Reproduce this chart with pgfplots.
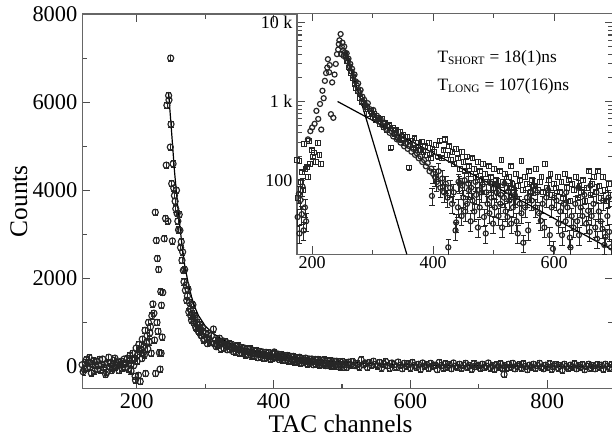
\documentclass[border=0pt]{standalone}
\usepackage{fontspec}
\setmainfont{Liberation Serif}
\usepackage{pgfplots}
\usepackage{pgfplotstable}
\pgfplotsset{compat=1.18}

% main spectrum (linear)
\pgfplotstableread{
x y
120 40
121.5 -120
123 -60
124.5 90
126 150
127.5 -30
129 90
130.5 200
132 -20
133.5 -150
135 60
136.5 130
138 -100
139.5 20
141 110
142.5 -60
144 20
145.5 160
147 -80
148.5 40
150 170
151.5 -20
153 50
154.5 -180
156 -130
157.5 90
159 210
160.5 0
162 80
163.5 -90
165 -40
166.5 140
168 190
169.5 -10
171 30
172.5 100
174 -90
175.5 50
177 120
178.5 -40
180 60
181.5 170
183 -20
184.5 80
186 180
187.5 -60
189 140
190 250
191.5 -100
192 60
193.5 150
194 300
195.5 20
196 180
197.5 -220
198 -310
199 420
200.5 120
201 260
202.5 -200
203 500
204 340
205 -340
206 380
207.5 180
208 620
209 300
210 450
211 260
212 820
213 -160
214 540
215 700
216 400
217 1000
218 560
219 760
220 900
221 300
222 1150
223.5 1420
225 1210
226 600
227 3500
227.5 -160
228.5 2860
229.5 1000
230 2450
231 800
232 2200
233 310
234 -60
235 1700
235.5 300
236 1390
237 670
238 1680
240 2900
242 3360
243 4570
244 5930
245.5 3300
246.5 6150
247 6050
249.5 7000
249 4980
250 5500
251 4150
252 2850
253 4600
254 4050
255 3880
256 3750
257 3580
258 4000
259 3470
260 3300
261 3100
262 3450
263 3090
264 2700
265 2830
266 2410
267 2600
268 2180
269 1920
270 2200
271 1730
272 1850
273 1500
274 1600
275 1750
276 1240
277 1450
278 1300
279 1150
280 1050
281 1200
282 1400
283 1000
284 1150
285 1100
286 900
287 860
288 1000
289 950
290 800
291 780
292 950
293 860
294 700
295 700
296 880
297 800
298 600
299 620
300 750
302 660
303 520
305 750
306 600
308 540
309 700
312 850
313 520
315 600
316 450
318 480
320 560
321 640
323 400
324 520
326 580
327 420
329 500
330 560
332 380
333 460
335 520
336 380
338 440
339 500
341 340
342 410
344 460
345 330
347 390
348 470
350 300
351 380
353 430
354 300
356 350
357 420
359 260
360 350
362 400
363 270
365 330
366 400
368 240
369 310
371 360
372 240
374 290
375 360
377 200
378 290
380 340
381 220
383 280
384 330
386 190
387 260
389 320
390 200
392 250
393 310
395 170
396 240
398 290
399 180
401 330
402 300
404 200
405 230
407 280
408 160
410 220
411 270
413 150
414 200
416 250
417 140
419 200
420 250
422 120
423 180
425 230
426 120
428 160
429 230
431 100
432 160
434 200
435 100
437 140
438 210
440 80
441 140
443 180
444 90
446 130
447 190
449 60
450 130
452 170
453 70
455 120
456 170
458 40
459 110
461 160
462 50
464 100
465 160
467 30
468 90
470 140
471 40
473 80
474 150
476 20
477 80
479 130
480 20
482 70
483 130
485 10
486 70
488 120
489 10
491 50
492 120
494 0
495 60
497 110
498 -10
500 40
501 110
503 -20
504 40
506 90
507 -20
509 40
510 100
513 30
516 110
519 20
522 60
525 -10
528 150
531 40
534 80
537 -20
540 90
543 30
546 120
549 50
552 10
555 90
558 -30
561 60
564 110
567 20
570 -40
573 80
576 40
579 -10
582 100
585 30
588 -50
591 70
594 10
597 60
600 -30
603 90
606 20
609 -20
612 50
615 -60
618 80
621 10
624 40
627 -40
630 70
633 0
636 30
639 -70
642 90
645 20
648 -30
651 60
654 -10
657 40
660 -50
663 80
666 10
669 -20
672 50
675 -40
678 30
681 70
684 -10
687 20
690 -60
693 60
696 0
699 30
702 -40
705 50
708 -20
711 10
714 80
717 -30
720 20
723 -60
726 40
729 -10
732 60
735 -40
737 -180
738 20
741 -30
744 50
747 -10
750 70
753 -50
756 10
759 40
762 -30
765 60
768 0
771 -70
774 30
777 -20
780 50
783 -40
786 20
789 70
792 -10
795 -50
798 30
801 -20
804 60
807 -60
810 10
813 40
816 -30
819 20
822 -80
825 50
828 0
831 -40
834 30
837 -10
840 60
843 -50
846 20
849 -20
852 40
855 -70
858 10
861 50
864 -30
867 20
870 -50
873 40
876 -10
879 30
882 -60
885 50
888 0
891 -30
894 40
}\mainpts

% inset: squares
\pgfplotstableread{
x y
175 180
177 60
179 177
181 95
183 126
185 75
187 287
189 140
191 146
193 110
195 316
197 160
199 240
201 200
203 225
206 170
209 300
212 210
214 160
255 3900
258 3300
261 2700
264 2300
267 2000
270 1700
273 1500
276 1350
279 1100
282 1000
285 950
288 800
291 850
294 700
297 760
300 640
303 700
306 580
309 620
312 520
315 600
318 470
321 540
324 430
327 500
330 260
333 460
336 390
339 430
342 350
345 410
348 330
351 380
354 300
357 360
360 145
363 320
366 280
369 340
372 260
375 300
378 240
381 310
384 230
387 270
390 210
393 300
396 190
399 250
402 230
405 280
408 200
411 320
414 190
417 240
420 330
423 210
426 270
429 180
432 230
435 160
438 250
441 190
444 140
447 230
450 170
453 130
456 200
459 150
462 120
465 190
468 140
471 110
474 170
477 130
480 100
483 160
486 120
489 95
492 150
495 110
498 90
501 140
504 100
507 85
510 130
513 180
516 95
519 120
522 80
525 110
528 150
531 90
534 70
537 120
540 85
543 100
546 177
549 75
552 110
555 90
558 130
561 70
564 100
567 85
570 140
573 75
576 95
579 110
582 70
585 160
588 80
591 100
594 120
597 65
600 90
603 80
606 110
609 70
612 95
615 60
618 120
621 80
624 100
627 55
630 90
633 75
636 110
639 60
642 85
645 70
648 100
651 55
654 80
657 130
660 65
663 90
666 110
669 70
672 130
675 85
678 60
681 110
684 75
687 55
690 90
693 65
696 50
}\insetsq

% inset: circles, rising edge and peak
\pgfplotstableread{
x y
193 330
197 420
200 468
204 520
207 760
210 600
213 930
215 440
217 1370
219 1100
221 1830
223 2300
225 2700
226 3450
228 2350
229 2900
231 690
233 1750
235 620
237 2200
239 3000
241 4000
243 4570
244 5360
245 6000
247 7200
248 4000
249 5000
250 5600
251 4400
252 3800
253 5000
254 4200
256 3600
257 4100
259 3200
260 3500
262 2800
263 3000
265 2400
266 2600
268 2100
270 2200
272 1800
274 1600
276 1700
278 1300
280 1400
283 1150
286 1050
289 900
292 950
295 800
298 720
301 780
304 620
307 660
310 560
313 600
316 500
319 540
322 450
325 480
328 400
331 420
334 360
337 390
340 330
343 360
346 300
349 320
352 270
355 290
358 250
361 270
364 230
367 250
370 210
373 220
376 190
379 200
382 170
385 180
388 150
391 165
394 130
397 140
}\insethi

% inset: circles, low counts with large errors
\pgfplotstableread{
x y
176 34
178 67
179 21
181 56
183 37
184 83
186 23
188 45
190 30
398 63
400 120
403 110
406 95
409 130
412 80
415 105
418 70
421 90
424 60
425 14
428 80
431 50
434 70
437 23
438 29
441 45
442 95
444 90
447 35
448 85
450 60
452 100
453 40
456 50
458 90
459 75
462 30
463 80
465 55
468 40
470 95
471 65
474 25
476 75
477 45
480 70
482 88
484 34
487 21
488 70
490 50
493 38
494 92
496 60
499 28
500 78
502 45
505 70
506 85
508 35
511 50
512 65
514 25
517 60
518 90
520 40
523 34
524 72
526 55
529 28
530 80
532 45
535 65
536 60
538 30
540 21
543 50
546 38
549 16
552 45
555 60
557 23
560 70
563 55
566 85
569 45
572 70
575 38
578 30.5
581 50
584 25
587 60
590 75
593 20
596 45
598 13.4
600 60
604 55
607 28
610 40
613 20
616 50
619 30
620 70
622 45
626 18.6
627 14
629 35
632 25
635 50
638 30
640 80
641 20
644 45
647 35
650 65
653 28
656 40.8
659 22
660 85
662 35
665 50
668 25
670 70
671 18
674 40
677 30
680 24
681 55
683 15
685 19
688 35
690 60
691 22
694 14
}\insetlo

\begin{document}
\begin{tikzpicture}
\begin{axis}[
    name=main,
    at={(0,0)}, anchor=south west,
    scale only axis,
    width=397.5pt, height=280.5pt,
    xmin=120, xmax=896,
    ymin=-500, ymax=8000,
    xtick={200,400,600,800},
    minor xtick={300,500,700},
    ytick={0,2000,4000,6000,8000},
    minor ytick={1000,3000,5000,7000},
    scaled y ticks=false,
    tick align=inside,
    major tick length=6pt,
    minor tick length=3.5pt,
    axis line style={black!60, line width=0.9pt},
    tick style={black!70, line width=0.8pt},
    ticklabel style={font=\fontsize{16.8}{18}\selectfont},
    /pgf/number format/assume math mode=true,
    /pgf/number format/1000 sep={},
    xlabel={TAC channels},
    ylabel={Counts},
    label style={font=\fontsize{19}{21}\selectfont},
    xlabel style={at={(axis description cs:0.487,-0.094)}, anchor=center},
    ylabel style={at={(axis description cs:-0.119,0.5)}, anchor=center},
]
\addplot[only marks, mark=o, mark size=2.3pt, black!85,
    mark options={line width=0.85pt},
    error bars/.cd, y dir=both, y fixed=70,
    error bar style={line width=0.5pt, black!85},
    error mark options={rotate=90, mark size=1.9pt, line width=0.5pt, black!85}]
    table {\mainpts};
\addplot[black, line width=0.9pt] coordinates {
    (246.5,6200) (250,5500) (255,4450) (260,3600) (265,2900) (270,2300)
    (275,1900) (280,1580) (285,1340) (290,1160) (300,920) (310,770)
    (320,660) (335,530) (350,440) (375,330) (400,255) (450,160) (500,100)
    (550,63) (600,40) (650,25) (700,16) (800,6) (896,2)
};
\end{axis}

\begin{axis}[
    at={(161pt,100.5pt)}, anchor=south west,
    scale only axis,
    width=236.5pt, height=180.5pt,
    xmin=175, xmax=697,
    ymode=log,
    ymin=11.4, ymax=13200,
    xtick={200,400,600},
    minor xtick={300,500},
    ytick={100,1000,10000},
    yticklabels={100,1 k,10 k},
    tick align=inside,
    major tick length=6pt,
    minor tick length=3.5pt,
    axis line style={black!60, line width=0.9pt},
    tick style={black!70, line width=0.8pt},
    ticklabel style={font=\fontsize{13.5}{15}\selectfont},
    xticklabel style={yshift=2pt},
    /pgf/number format/assume math mode=true,
    axis background/.style={fill=white},
]
\addplot[only marks, mark=square, mark size=1.8pt, black!85,
    mark options={line width=0.7pt},
    error bars/.cd, y dir=both, y fixed relative=0.07,
    error bar style={line width=0.5pt, black!85},
    error mark options={rotate=90, mark size=1.8pt, line width=0.5pt, black!85}]
    table {\insetsq};
\addplot[only marks, mark=o, mark size=1.9pt, black!85,
    mark options={line width=0.9pt}]
    table {\insethi};
\addplot[only marks, mark=o, mark size=1.9pt, black!85,
    mark options={line width=0.9pt},
    error bars/.cd, y dir=both, y fixed relative=0.25,
    error bar style={line width=0.6pt, black!85},
    error mark options={rotate=90, mark size=2pt, line width=0.6pt, black!85}]
    table {\insetlo};
\addplot[black, line width=0.9pt] coordinates {(255,4580) (356.5,11.4)};
\addplot[black, line width=0.9pt] coordinates {(242,1000) (697,12.9)};
\node[anchor=base west, font=\fontsize{13}{15}\selectfont]
    at (rel axis cs:0.43,0.798)
    {T\textsubscript{\fontsize{8.5}{9}\selectfont SHORT} = 18(1)ns};
\node[anchor=base west, font=\fontsize{13}{15}\selectfont]
    at (rel axis cs:0.43,0.681)
    {T\textsubscript{\fontsize{8.5}{9}\selectfont LONG} = 107(16)ns};
\end{axis}

\pgfresetboundingbox
\path[use as bounding box] (-61.5pt,-39pt) rectangle (396.9pt,291pt);
\end{tikzpicture}
\end{document}
